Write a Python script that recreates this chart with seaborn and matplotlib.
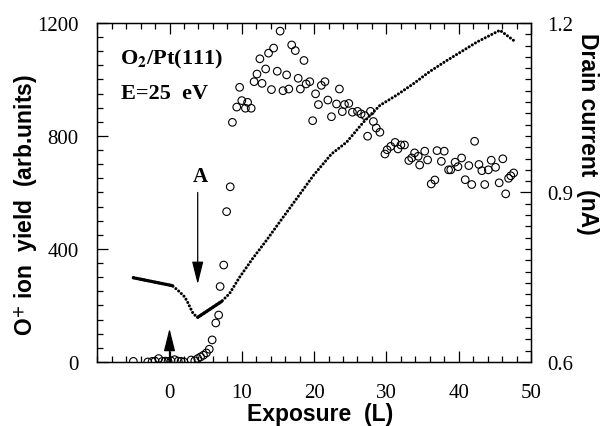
import numpy as np
import pandas as pd
import matplotlib
matplotlib.use('Agg')
import matplotlib.pyplot as plt
from matplotlib.ticker import MultipleLocator, FormatStrFormatter
import seaborn as sns

# O+ ion yield (open circles, left axis)
yield_x = [-5.0, -3.0, -2.4, -2.0, -1.5, -1.0, -0.6, -0.2, 0.2, 0.7, 1.2, 1.6, 2.0,
           3.0, 3.5, 3.9, 4.3, 4.7, 5.1, 5.5, 5.9, 6.4, 6.8, 7.0, 7.5, 7.9, 8.4, 8.7,
           9.3, 9.7, 10.0, 10.5, 10.8, 11.3, 11.7, 12.1, 12.5, 12.8, 13.3, 13.7, 14.1,
           14.4, 14.9, 15.3, 15.7, 16.2, 16.5, 16.9, 17.4, 17.8, 18.1, 18.6, 18.9,
           19.4, 19.8, 20.2, 20.6, 21.0, 21.5, 21.9, 22.4, 23.1, 23.5, 23.9, 24.2,
           24.8, 25.3, 26.0, 26.5, 27.0, 27.4, 27.8, 28.2, 28.6, 29.1, 29.8, 30.1,
           30.6, 31.2, 31.6, 32.0, 32.5, 33.1, 33.5, 33.9, 34.4, 34.6, 35.3, 35.7,
           36.2, 36.7, 37.0, 37.6, 38.0, 38.6, 38.9, 39.5, 39.9, 40.4, 40.9, 41.4,
           41.8, 42.2, 42.8, 43.2, 43.6, 44.1, 44.5, 45.1, 45.6, 46.1, 46.5, 46.9,
           47.2, 47.6]
yield_v = [2, 0, 2, 3, 12, 2, 3, 2, 4, 8, 3, 2, 0,
           7, 4, 12, 18, 24, 32, 45, 78, 138, 166, 267, 343, 532, 620, 848,
           902, 972, 925, 898, 919, 898, 992, 1019, 1073, 986, 1037, 1093, 964,
           1111, 1029, 1171, 960, 1016, 966, 1122, 1102, 1004, 966, 1067, 984,
           992, 854, 949, 911, 979, 992, 927, 868, 913, 966, 886, 911,
           915, 884, 887, 878, 872, 799, 887, 851, 828, 813, 736, 751,
           763, 777, 754, 768, 768, 713, 722, 740, 728, 697, 746, 715,
           630, 644, 748, 710, 746, 680, 680, 707, 691, 722, 645, 695,
           628, 781, 699, 677, 628, 680, 714, 689, 634, 719, 595, 650,
           659, 669]

# drain current (dotted curve, right axis)
cur_x = [-5.0, 0.4, 1.4, 2.1, 2.5, 2.9, 3.3, 3.9, 7.2, 8.3, 9.7, 11.5, 13.4, 15.2,
         17.3, 19.9, 22.4, 24.5, 26.8, 29.1, 31.4, 33.7, 36.0, 38.3, 40.6, 42.5,
         45.7, 47.7]
cur_nA = [0.749, 0.735, 0.724, 0.715, 0.706, 0.695, 0.685, 0.679, 0.707, 0.721,
          0.750, 0.783, 0.815, 0.847, 0.884, 0.930, 0.968, 0.989, 1.024, 1.054,
          1.072, 1.092, 1.114, 1.133, 1.151, 1.166, 1.187, 1.168]

x_ticks = [0, 10, 20, 30, 40, 50]

df_y = pd.DataFrame({'x': yield_x, 'v': yield_v})
df_c = pd.DataFrame({'x': cur_x, 'i': cur_nA})

sns.set_style('ticks')
plt.rcParams['font.family'] = ['Liberation Serif', 'DejaVu Serif']
plt.rcParams['mathtext.fontset'] = 'stix'
plt.rcParams['xtick.direction'] = 'in'
plt.rcParams['ytick.direction'] = 'in'
for k in ('text.color', 'axes.labelcolor', 'xtick.color', 'ytick.color',
          'axes.edgecolor'):
    plt.rcParams[k] = 'black'

fig = plt.figure(figsize=(6, 4.27), dpi=100)
ax = fig.add_axes([0.162, 0.150, 0.723, 0.794])
ax2 = ax.twinx()

sns.scatterplot(data=df_y, x='x', y='v', ax=ax, s=30, facecolors='none',
                edgecolor='black', linewidth=0.8, zorder=3)

# dotted curve, the two dense parts drawn solid
sns.lineplot(data=df_c, x='x', y='i', ax=ax2, sort=False, color='black',
             linewidth=2.2, linestyle=(0, (0.01, 1.2)), dash_capstyle='round')
sns.lineplot(data=df_c.iloc[0:2], x='x', y='i', ax=ax2, sort=False,
             color='black', linewidth=2.3)
sns.lineplot(data=df_c.iloc[7:9], x='x', y='i', ax=ax2, sort=False,
             color='black', linewidth=2.3)

ax.set_xlim(-10, 50)
ax.set_ylim(0, 1200)
ax2.set_ylim(0.6, 1.2)

ax.set_xticks(x_ticks)
ax.xaxis.set_minor_locator(MultipleLocator(2))
ax.yaxis.set_major_locator(MultipleLocator(400))
ax.yaxis.set_minor_locator(MultipleLocator(50))
ax2.yaxis.set_major_locator(MultipleLocator(0.3))
ax2.yaxis.set_minor_locator(MultipleLocator(0.02))
ax2.yaxis.set_major_formatter(FormatStrFormatter('%.1f'))

for a in (ax, ax2):
    a.tick_params(which='both', labelsize=15, width=0.9)
    a.tick_params(which='major', length=8)
    a.tick_params(which='minor', length=4)
    for s in a.spines.values():
        s.set_visible(True)
        s.set_linewidth(0.9)
ax.tick_params(which='both', top=True, right=False)
ax.tick_params(axis='x', which='major', pad=15)
ax.tick_params(axis='y', which='major', pad=13.5)
ax2.tick_params(axis='y', which='major', pad=12)

lab = dict(family='Liberation Sans', fontweight='bold', fontsize=16.5)
ax.set_xlabel('Exposure  (L)', **lab)
ax.set_ylabel('O$^{\\mathbf{+}}$ ion  yield  (arb.units)', **lab)
ax2.set_ylabel('Drain current  (nA)', rotation=270, **lab)
ax.xaxis.label.set_va('center')
ax.yaxis.label.set_va('center')
ax2.yaxis.label.set_va('center')
ax.xaxis.set_label_coords(0.514, -0.153)
ax.yaxis.set_label_coords(-0.166, 0.465)
ax2.yaxis.set_label_coords(1.131, 0.675)

ax.text(-6.9, 1055, 'O$_{\\mathbf{2}}$/Pt(111)', fontsize=16, fontweight='bold',
        va='baseline')
ax.text(-6.7, 934, 'E=25  eV', fontsize=16, fontweight='bold', va='baseline')

# arrows
head = '-|>,head_length=1.4,head_width=0.35'
ax.annotate('', xy=(3.9, 275), xytext=(3.9, 600),
            arrowprops=dict(arrowstyle=head, color='black', lw=0.9,
                            shrinkA=0, shrinkB=0))
ax.text(4.2, 641, 'A', fontsize=15, fontweight='bold', ha='center', va='baseline')
ax.annotate('', xy=(0.0, 118), xytext=(0.0, 0),
            arrowprops=dict(arrowstyle=head, color='black', lw=0.9,
                            shrinkA=0, shrinkB=0))

fig.savefig('out.png', dpi=100)
